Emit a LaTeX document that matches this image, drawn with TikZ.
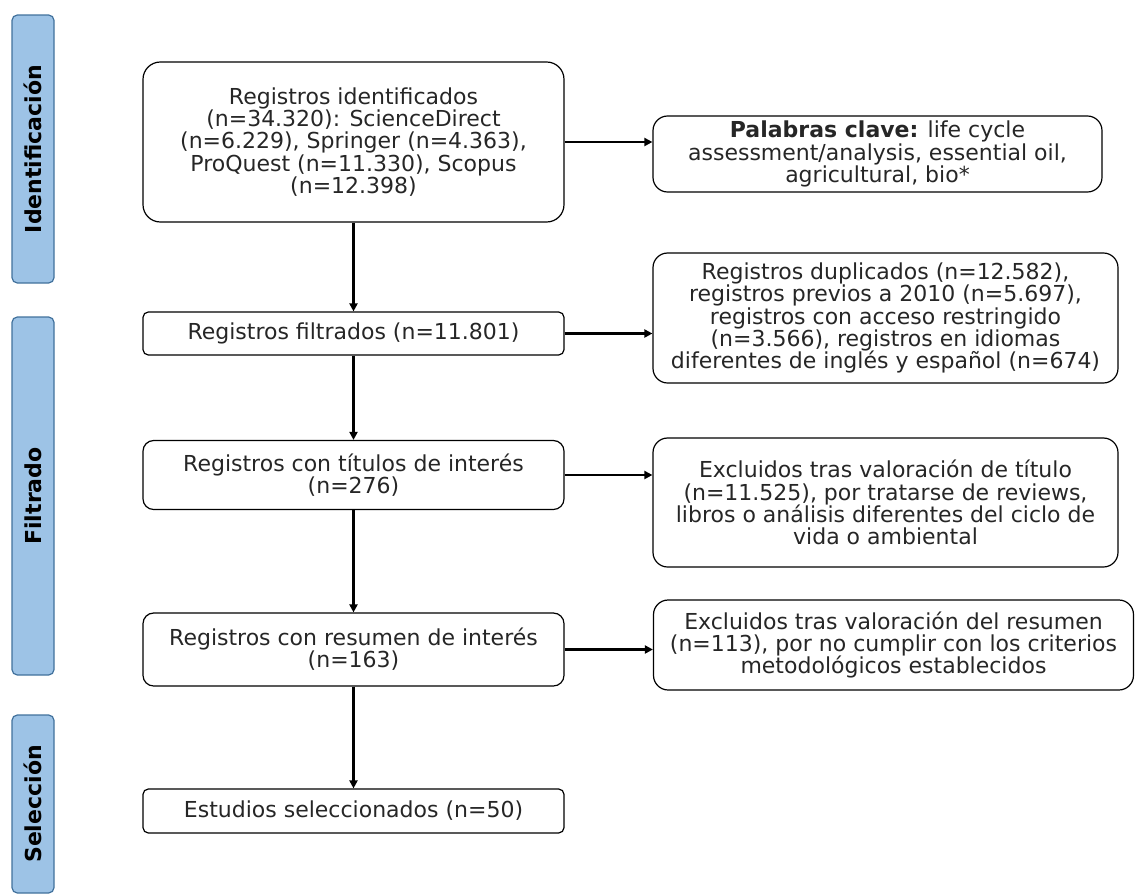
\documentclass[tikz,border=0pt]{standalone}
\usepackage{fontspec}
\setmainfont{DejaVu Sans}
\usetikzlibrary{arrows.meta}
\usepackage{xcolor}
\definecolor{azulbarra}{RGB}{157,195,230}
\definecolor{bordebarra}{RGB}{65,113,156}
\definecolor{texto}{RGB}{38,38,38}

\begin{document}
\begin{tikzpicture}[x=0.75pt,y=-0.75pt,
    caja/.style={draw=black, line width=0.9pt, text=texto, align=center, inner sep=0pt,
        font=\fontsize{16.5}{16.7}\selectfont},
    barra/.style={draw=bordebarra, fill=azulbarra, line width=0.9pt, rounded corners=4pt,
        rotate=90, minimum height=31.5pt, inner sep=0pt, font=\fontsize{16.5}{17}\selectfont\bfseries},
    flecha/.style={line width=1.7pt, -{Triangle[length=6pt,width=6pt]}}]
    % Marco de la figura
    \useasboundingbox (0,0) rectangle (1136,896);
    % Barras de fase (izquierda)
    \node[barra, minimum width=201pt] (ident) at (33,149) {Identificación};
    \node[barra, minimum width=268.5pt] (filtr) at (33,496) {Filtrado};
    \node[barra, minimum width=133.5pt] (selec) at (33,804) {Selección};
    % Columna principal
    \node[caja, rounded corners=13pt, minimum width=315.75pt, minimum height=120pt] (reg) at (353.5,142)
        {Registros identificados\\(n=34.320): ScienceDirect\\(n=6.229), Springer (n=4.363),\\ProQuest (n=11.330), Scopus\\(n=12.398)};
    \node[caja, rounded corners=4pt, minimum width=315.75pt, minimum height=32.25pt] (filt) at (353.5,333.5)
        {Registros filtrados (n=11.801)};
    \node[caja, rounded corners=8pt, minimum width=315.75pt, minimum height=51.75pt] (tit) at (353.5,475)
        {Registros con títulos de interés\\(n=276)};
    \node[caja, rounded corners=8pt, minimum width=315.75pt, minimum height=54.75pt] (res) at (353.5,649.5)
        {Registros con resumen de interés\\(n=163)};
    \node[caja, rounded corners=4pt, minimum width=315.75pt, minimum height=33pt] (sel) at (353.5,811)
        {Estudios seleccionados (n=50)};
    % Columna derecha
    \node[caja, rounded corners=11pt, minimum width=336.75pt, minimum height=57pt] (clave) at (877.5,154)
        {\textbf{Palabras clave:} life cycle\\assessment/analysis, essential oil,\\agricultural, bio*};
    \node[caja, rounded corners=11pt, minimum width=348.75pt, minimum height=97.5pt] (dup) at (885.5,318)
        {Registros duplicados (n=12.582),\\registros previos a 2010 (n=5.697),\\registros con acceso restringido\\(n=3.566), registros en idiomas\\diferentes de inglés y español (n=674)};
    \node[caja, rounded corners=11pt, minimum width=348.75pt, minimum height=96.75pt] (extit) at (885.5,502.5)
        {Excluidos tras valoración de título\\(n=11.525), por tratarse de reviews,\\libros o análisis diferentes del ciclo de\\vida o ambiental};
    \node[caja, rounded corners=11pt, minimum width=360pt, minimum height=67.5pt] (exres) at (893.5,645)
        {Excluidos tras valoración del resumen\\(n=113), por no cumplir con los criterios\\metodológicos establecidos};
    % Flechas verticales
    \draw[flecha] (reg) -- (filt);
    \draw[flecha] (filt) -- (tit);
    \draw[flecha] (tit) -- (res);
    \draw[flecha] (res) -- (sel);
    % Flechas horizontales
    \draw[flecha] (reg.east) -- (reg.east -| clave.west);
    \draw[flecha] (filt.east) -- (filt.east -| dup.west);
    \draw[flecha] (tit.east) -- (tit.east -| extit.west);
    \draw[flecha] (res.east) -- (res.east -| exres.west);
\end{tikzpicture}
\end{document}
